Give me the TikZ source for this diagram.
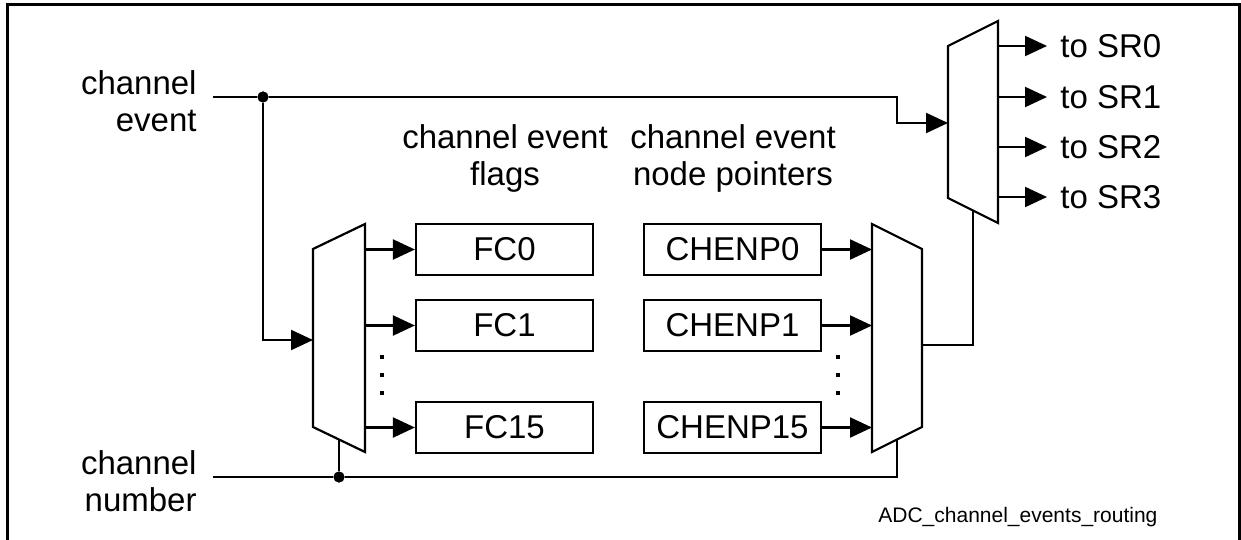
\documentclass[tikz,border=0pt]{standalone}
\usepackage{fontspec}
\setmainfont{Liberation Sans}
\usetikzlibrary{positioning,arrows.meta,calc}
\tikzset{
  reg/.style  ={rectangle, draw=black, line width=1.1pt, minimum width=88.5pt,
                minimum height=25.5pt, inner sep=0pt, font=\fontsize{16.5}{18.5}\selectfont},
  wire/.style ={line width=1.1pt},
  sig/.style  ={wire, -{Triangle[length=11pt,width=10pt]}},
  mux/.style  ={draw=black, line width=1.1pt, fill=white, line join=miter},
  lbl/.style  ={font=\fontsize{16.5}{18.5}\selectfont, inner sep=0pt},
  dot/.style  ={circle, fill=black, inner sep=0pt, minimum size=5.5pt},
  vdot/.style ={rectangle, fill=black, inner sep=0pt, minimum size=1.6pt},
}
\begin{document}
\begin{tikzpicture}[x=0.5pt, y=-0.5pt]
  \useasboundingbox (0,0) rectangle (1241,540);
  % frame
  \draw[line width=1.5pt] (7,545) -- (7,5) -- (1239,5) -- (1239,545);

  % multiplexers
  \draw[mux] (313,249) -- (365,224) -- (365,452) -- (313,427) -- cycle;
  \draw[mux] (872,224) -- (922,249) -- (922,427) -- (872,452) -- cycle;
  \draw[mux] (948,46) -- (998,21) -- (998,223) -- (948,198) -- cycle;
  \coordinate (lmuxin) at (313,340);
  \coordinate (lmuxR) at (365,340);
  \coordinate (lmuxsel) at (339,439.5);
  \coordinate (rmuxL) at (872,340);
  \coordinate (rmuxout) at (922,345);
  \coordinate (rmuxsel) at (897,439.5);
  \coordinate (tmuxin) at (948,123);
  \coordinate (tmuxR) at (998,123);
  \coordinate (tmuxsel) at (973,210.5);
  \coordinate (bend) at (897,123);

  % inputs
  \node[lbl, align=right, anchor=east, inner xsep=8pt] (evlbl) at (213,101) {channel\\event};
  \node[lbl, align=right, anchor=east, inner xsep=8pt] (numlbl) at (213,481) {channel\\number};
  \node[dot] (jev) at (263,97) {};
  \node[dot] (jnum) at (339,477) {};

  % headings
  \node[lbl, align=center] (flaghd) at (505,158) {channel event\\flags};
  \node[lbl, align=center] (ptrhd) at (733,158) {channel event\\node pointers};

  % registers
  \node[reg] (fc0) at (504.5,249.5) {FC0};
  \node[reg] (fc1) at (504.5,325.5) {FC1};
  \node[reg] (fc15) at (504.5,427.5) {FC15};
  \node[reg] (chenp0) at (732.5,249.5) {CHENP0};
  \node[reg] (chenp1) at (732.5,325.5) {CHENP1};
  \node[reg] (chenp15) at (732.5,427.5) {CHENP15};
  \foreach \y [count=\i] in {357,375,393} {
    \node[vdot] (ldot\i) at (382,\y) {};
    \node[vdot] (rdot\i) at (838,\y) {};
  }

  % outputs
  \foreach \y/\n in {46/0,97/1,147/2,197/3}
    \node[lbl, anchor=west, inner xsep=6.5pt] (sr\n) at (1047,\y) {to SR\n};

  % connections
  \draw[wire] (jev -| evlbl.east) -- (jev);
  \draw[sig] (jev) -| (bend) -- (tmuxin);
  \draw[sig] (jev) |- (lmuxin);
  \draw[wire] (jnum -| numlbl.east) -- (jnum) -| (rmuxsel);
  \draw[wire] (jnum) -- (lmuxsel);
  \draw[wire] (rmuxout) -| (tmuxsel);
  \foreach \r in {fc0,fc1,fc15}
    \draw[sig] (\r.west -| lmuxR) -- (\r.west);
  \foreach \r in {chenp0,chenp1,chenp15}
    \draw[sig] (\r.east) -- (\r.east -| rmuxL);
  \foreach \n in {0,1,2,3}
    \draw[sig] (sr\n.west -| tmuxR) -- (sr\n.west);
  \node[dot] at (jev) {};
  \node[dot] at (jnum) {};

  \node[font=\fontsize{10.5}{12}\selectfont, anchor=base west, inner sep=0pt] (figname) at (878,522) {ADC\_channel\_events\_routing};
\end{tikzpicture}
\end{document}
